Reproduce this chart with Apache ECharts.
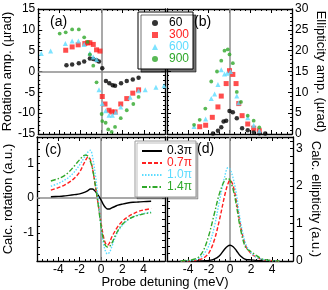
<!DOCTYPE html>
<html><head><meta charset="utf-8">
<script src="https://cdn.jsdelivr.net/npm/echarts@6/dist/echarts.min.js"></script>
<style>html,body{margin:0;padding:0;background:#fff}#c{width:328px;height:290px}</style>
</head><body><div id="c"></div>
<script>
// ---- data ----
const xTickLabels = [-4, -2, 0, 2, 4];
const rotTickLabels = [-15, -10, -5, 0, 5, 10, 15];
const ellTickLabels = [0, 5, 10, 15, 20, 25, 30];
const calcRotTickLabels = [-1, 0, 1];
const calcEllTickLabels = [0, 1, 2, 3];

// (a) measured rotation amplitude
const rot60X = [-3.33,-2.79,-2.16,-1.65,-1.11,-0.79,-0.48,-0.25,0.06,0.41,0.73,1.05,1.27,1.84,2.38,2.95,3.5];
const rot60Y = [1.5,1.7,2.0,2.4,3.1,3.0,2.7,2.4,0.8,-2.3,-2.8,-3.3,-3.4,-2.8,-2.3,-1.9,-1.5];
const rot300X = [-3.4,-2.79,-2.22,-1.59,-1.33,-1.11,-0.79,-0.48,-0.16,0.06,0.32,0.7,0.95,1.27,1.81,2.38,2.95,3.5];
const rot300Y = [5.1,5.9,6.4,6.7,6.9,6.9,6.5,5.2,4.9,-6.0,-7.8,-9.3,-9.7,-9.7,-7.8,-6.5,-5.2,-4.4];
const rot600X = [-5.71,-4.83,-3.43,-2.79,-2.2,-1.65,-1.11,-0.79,-0.48,-0.25,0.06,0.38,0.7,1.02,1.33,1.81,2.7,3.5,4.13,5.14,5.9];
const rot600Y = [4.3,4.9,6.7,7.3,7.3,6.5,4.4,3.5,2.9,-4.4,-7.7,-9.4,-10.5,-10.5,-9.8,-8.5,-6.2,-4.6,-4.4,-3.8,-3.4];
const rot900X = [-3.97,-3.4,-2.79,-2.16,-1.65,-1.33,-1.11,-0.79,-0.48,0.0,0.06,0.38,0.63,0.95,1.27,1.81,2.38,3.0,3.5];
const rot900Y = [9.1,9.4,10.1,10.1,8.2,7.1,4.1,1.4,-2.6,-10.2,-11.9,-12.3,-13.9,-14.5,-13.3,-11.2,-9.3,-7.8,-6.1];

// (b) measured ellipticity amplitude
const ell60X = [-1.59,-1.11,-0.79,-0.57,-0.32,0.0,0.32,0.7,1.21,1.75,2.32,2.86,3.43];
const ell60Y = [0.1,0.8,1.6,3.0,3.2,5.5,5.2,3.8,1.4,0.9,0.5,0.2,0.1];
const ell300X = [-2.86,-2.29,-1.65,-1.11,-0.79,-0.32,0.0,0.32,0.63,0.89,1.21,1.75,2.32,2.86];
const ell300Y = [1.75,2.1,4.0,6.5,9.1,12.1,15.2,14.3,12.1,7.3,4.4,2.4,1.4,0.8];
const ell600X = [-3.4,-2.29,-1.75,-1.43,-1.11,-0.79,-0.48,-0.22,0.1,0.7,0.89,1.75,2.32,2.86];
const ell600Y = [1.8,3.6,8.5,9.6,11.9,15.4,14.4,14.6,15.0,9.1,7.5,3.9,2.1,0.8];
const ell900X = [-3.4,-2.86,-2.32,-1.75,-1.2,-0.79,-0.48,-0.16,0.0,0.32,0.7,1.1,1.75,2.32,2.86];
const ell900Y = [2.2,3.4,6.1,12.6,15.0,17.6,20.0,20.3,19.1,17.0,10.1,7.7,4.4,3.2,1.6];

// (c) calculated rotation
const calcRotX = [-4.7,-4,-3.5,-3,-2.5,-2,-1.5,-1.2,-1,-0.8,-0.5,-0.3,0,0.2,0.4,0.6,0.8,1,1.3,1.6,2,2.5,3,3.5,4,4.7];
const calcRot03 = [0.04,0.05,0.06,0.08,0.1,0.12,0.17,0.22,0.26,0.26,0.18,0.1,-0.05,-0.17,-0.26,-0.31,-0.31,-0.28,-0.24,-0.2,-0.17,-0.14,-0.12,-0.11,-0.1,-0.09];
const calcRot07 = [0.23,0.3,0.36,0.45,0.57,0.75,1.05,1.18,1.1,0.85,0.3,-0.1,-0.7,-1.05,-1.28,-1.35,-1.28,-1.12,-0.95,-0.8,-0.66,-0.54,-0.45,-0.38,-0.34,-0.3];
const calcRot10 = [0.34,0.42,0.5,0.6,0.75,0.95,1.2,1.33,1.37,1.2,0.6,0.1,-0.8,-1.25,-1.5,-1.6,-1.55,-1.4,-1.15,-0.95,-0.78,-0.63,-0.54,-0.48,-0.44,-0.4];
const calcRot14 = [0.49,0.56,0.63,0.75,0.92,1.1,1.23,1.2,1.05,0.85,0.3,-0.1,-0.8,-1.15,-1.35,-1.4,-1.38,-1.3,-1.1,-0.92,-0.75,-0.62,-0.54,-0.49,-0.45,-0.42];

// (d) calculated ellipticity
const calcEllX = [-4.7,-4,-3.5,-3,-2.5,-2,-1.5,-1,-0.5,-0.2,0,0.3,0.6,1,1.5,2,2.5,3,3.5,4,4.7];
const calcEll03 = [0,0,0,0,0.005,0.015,0.05,0.14,0.32,0.4,0.42,0.38,0.28,0.13,0.04,0.03,0.015,0.005,0,0,0];
const calcEll07 = [0,0,0.01,0.03,0.08,0.22,0.55,1.1,1.75,2.05,2.15,2.0,1.6,0.95,0.4,0.2,0.1,0.04,0.02,0.01,0];
const calcEll10 = [0,0.01,0.02,0.06,0.18,0.42,0.9,1.6,2.25,2.48,2.45,2.2,1.8,1.05,0.45,0.22,0.1,0.05,0.02,0.01,0];
const calcEll14 = [0,0.02,0.04,0.1,0.3,0.7,1.25,1.8,2.15,2.2,2.15,1.9,1.5,0.85,0.35,0.25,0.15,0.06,0.03,0.01,0];

// ---- chart ----
const FONT = 'Liberation Sans, Arial, Helvetica, sans-serif';
const C_BLACK = '#000000', C_RED = '#ff2020', C_CYAN = '#5cdcff', C_GREEN = '#2fa82a';
const zip = (xs, ys) => xs.map((x, i) => [x, ys[i]]);

const GRIDS = [
  {left: 37, top: 9, width: 128, height: 125},
  {left: 167, top: 9, width: 126, height: 125},
  {left: 37, top: 137, width: 128, height: 124},
  {left: 167, top: 137, width: 126, height: 124}
];

function xAx(g, pos, showLabel) {
  return {
    type: 'value', gridIndex: g, position: pos, min: -6, max: 6, interval: 2,
    axisLine: {show: true, onZero: false, lineStyle: {color: '#000', width: 1.3}},
    axisTick: {show: true, inside: true, length: 4, lineStyle: {color: '#000', width: 1}},
    minorTick: {show: true, splitNumber: 4, length: 2, lineStyle: {color: '#000', width: 1}},
    axisLabel: {show: showLabel, customValues: xTickLabels, fontSize: 12, color: '#000', fontFamily: FONT, margin: 3},
    splitLine: {show: false}
  };
}
function yAx(g, pos, min, max, interval, minorSplit, labels, name, rot, gap) {
  return {
    type: 'value', gridIndex: g, position: pos, min: min, max: max, interval: interval,
    axisLine: {show: true, onZero: false, lineStyle: {color: '#000', width: 1.3}},
    axisTick: {show: true, inside: true, length: minorSplit ? 4 : 3, lineStyle: {color: '#000', width: 1}},
    minorTick: {show: !!minorSplit, splitNumber: minorSplit || 5, length: 2, lineStyle: {color: '#000', width: 1}},
    axisLabel: {show: !!labels, customValues: labels || undefined, fontSize: 12, color: '#000', fontFamily: FONT, margin: 3},
    splitLine: {show: false},
    name: name || '', nameLocation: 'middle', nameRotate: rot || 0, nameGap: gap || 0,
    nameTextStyle: {fontSize: 13, color: '#000', fontFamily: FONT}
  };
}

const zeroLine = (withH) => ({
  silent: true, symbol: 'none', label: {show: false},
  lineStyle: {color: '#8c8c8c', type: 'solid', width: 1.5},
  data: withH ? [{xAxis: 0}, {yAxis: 0}] : [{xAxis: 0}], z: 1
});

function scatter(name, xi, yi, data, symbol, size, color, ml) {
  const s = {name: name, type: 'scatter', xAxisIndex: xi, yAxisIndex: yi, data: data,
    symbol: symbol, symbolSize: size, itemStyle: {color: color}, z: 3, silent: true};
  if (ml) s.markLine = ml;
  return s;
}
function line(name, xi, yi, data, color, type, ml) {
  const s = {name: name, type: 'line', xAxisIndex: xi, yAxisIndex: yi, data: data,
    showSymbol: false, symbol: 'none', smooth: 0.35, silent: true,
    lineStyle: {color: color, type: type, width: 1.4}, itemStyle: {color: color}, z: 3};
  if (ml) s.markLine = ml;
  return s;
}

const option = {
  animation: false,
  backgroundColor: '#fff',
  textStyle: {fontFamily: FONT},
  grid: GRIDS.map(g => Object.assign({containLabel: false}, g)),
  xAxis: [
    xAx(0, 'bottom', false), xAx(0, 'top', false),
    xAx(1, 'bottom', false), xAx(1, 'top', false),
    xAx(2, 'bottom', true), xAx(2, 'top', false),
    xAx(3, 'bottom', true), xAx(3, 'top', false)
  ],
  yAxis: [
    yAx(0, 'left', -15, 15, 5, 5, rotTickLabels, 'Rotation amp. (µrad)', 90, 22),
    yAx(0, 'right', -15, 15, 5, 5, null),
    yAx(1, 'left', 0, 30, 5, 5, null),
    yAx(1, 'right', 0, 30, 5, 5, ellTickLabels, 'Ellipticity amp. (µrad)', -90, 22),
    yAx(2, 'left', -1.8, 1.75, 0.2, 0, calcRotTickLabels, 'Calc. rotation (a.u.)', 90, 22),
    yAx(2, 'right', -1.8, 1.75, 0.2, 0, null),
    yAx(3, 'left', 0, 3.3, 0.2, 0, null),
    yAx(3, 'right', 0, 3.3, 0.2, 0, calcEllTickLabels, 'Calc. ellipticity (a.u.)', -90, 16)
  ],
  legend: [
    {
      data: [
        {name: '60', textStyle: {color: C_BLACK}},
        {name: '300', textStyle: {color: C_RED}},
        {name: '600', textStyle: {color: C_CYAN}},
        {name: '900', textStyle: {color: C_GREEN}}
      ],
      orient: 'vertical', left: 138, top: 12, itemWidth: 6, itemHeight: 6, itemGap: 0,
      padding: [5, 4, 4, 14], backgroundColor: '#fff', borderColor: '#000', borderWidth: 1,
      shadowColor: 'rgba(0,0,0,0.55)', shadowOffsetX: 3, shadowOffsetY: 3, shadowBlur: 0,
      textStyle: {fontSize: 12, lineHeight: 12, fontFamily: FONT, padding: [0, 0, 0, 6]},
      selectedMode: false, z: 10
    },
    {
      data: [
        {name: '0.3π', textStyle: {color: C_BLACK}},
        {name: '0.7π', textStyle: {color: C_RED}},
        {name: '1.0π', textStyle: {color: C_CYAN}},
        {name: '1.4π', textStyle: {color: C_GREEN}}
      ],
      orient: 'vertical', left: 135, top: 141, itemWidth: 20, itemHeight: 8, itemGap: 0,
      padding: [4, 4, 4, 6], backgroundColor: '#fff', borderColor: '#9a9a9a', borderWidth: 1,
      shadowColor: 'rgba(0,0,0,0.25)', shadowOffsetX: 2, shadowOffsetY: 2, shadowBlur: 0,
      itemStyle: {opacity: 0},
      textStyle: {fontSize: 12, lineHeight: 12, fontFamily: FONT},
      selectedMode: false, z: 10
    }
  ],
  series: [
    scatter('60', 0, 0, zip(rot60X, rot60Y), 'circle', 4.5, C_BLACK, zeroLine(true)),
    scatter('300', 0, 0, zip(rot300X, rot300Y), 'rect', 5, C_RED),
    scatter('600', 0, 0, zip(rot600X, rot600Y), 'triangle', 5, C_CYAN),
    scatter('900', 0, 0, zip(rot900X, rot900Y), 'circle', 3.8, C_GREEN),
    scatter('60', 2, 2, zip(ell60X, ell60Y), 'circle', 4.5, C_BLACK, zeroLine(false)),
    scatter('300', 2, 2, zip(ell300X, ell300Y), 'rect', 5, C_RED),
    scatter('600', 2, 2, zip(ell600X, ell600Y), 'triangle', 5, C_CYAN),
    scatter('900', 2, 2, zip(ell900X, ell900Y), 'circle', 3.8, C_GREEN),
    line('0.3π', 4, 4, zip(calcRotX, calcRot03), C_BLACK, 'solid', zeroLine(true)),
    line('0.7π', 4, 4, zip(calcRotX, calcRot07), C_RED, [4, 2]),
    line('1.0π', 4, 4, zip(calcRotX, calcRot10), C_CYAN, [1.5, 1.5]),
    line('1.4π', 4, 4, zip(calcRotX, calcRot14), C_GREEN, [5, 2, 1.5, 2]),
    line('0.3π', 6, 6, zip(calcEllX, calcEll03), C_BLACK, 'solid', zeroLine(false)),
    line('0.7π', 6, 6, zip(calcEllX, calcEll07), C_RED, [4, 2]),
    line('1.0π', 6, 6, zip(calcEllX, calcEll10), C_CYAN, [1.5, 1.5]),
    line('1.4π', 6, 6, zip(calcEllX, calcEll14), C_GREEN, [5, 2, 1.5, 2])
  ],
  graphic: [
    {type: 'text', left: 50, top: 15, style: {text: '(a)', fontSize: 14, fontFamily: FONT, fill: '#000'}, z: 20},
    {type: 'text', left: 194, top: 15, style: {text: '(b)', fontSize: 14, fontFamily: FONT, fill: '#000'}, z: 20},
    {type: 'text', left: 45, top: 143, style: {text: '(c)', fontSize: 14, fontFamily: FONT, fill: '#000'}, z: 20},
    {type: 'text', left: 197, top: 142, style: {text: '(d)', fontSize: 14, fontFamily: FONT, fill: '#000'}, z: 20},
    {type: 'text', x: 165, y: 282, style: {text: 'Probe detuning (meV)', fontSize: 13, fontFamily: FONT, fill: '#000', align: 'center', verticalAlign: 'middle'}, z: 20}
  ]
};

const chart = echarts.init(document.getElementById('c'), null, {renderer: 'canvas'});
chart.setOption(option);
</script></body></html>
